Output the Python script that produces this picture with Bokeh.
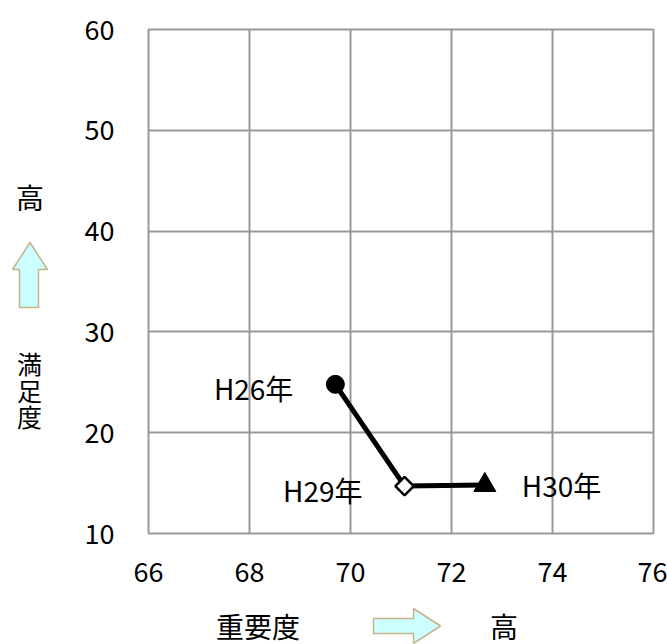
import numpy as np
from bokeh.plotting import figure
from bokeh.layouts import column, row
from bokeh.models import Range1d, FixedTicker
from bokeh.embed import file_html
from bokeh.resources import INLINE
from bokeh.core.properties import value

# ---- data ----
years = ["H26年", "H29年", "H30年"]
importance = [69.7, 71.07, 72.66]      # 重要度 (x)
satisfaction = [24.8, 14.7, 14.8]      # 満足度 (y)
x_ticks = [66, 68, 70, 72, 74, 76]
y_ticks = [10, 20, 30, 40, 50, 60]

FONT = "Noto Sans CJK JP"
GRID = "#999999"
ARROW_FILL = "#ccffff"
ARROW_LINE = "#c4b48a"

LEFT_W = 60
TOP_H = 600
TOTAL_W, TOTAL_H = 667, 644
FRAME_TOP, FRAME_BOTTOM = 29, 533

# ---- main chart ----
p = figure(width=TOTAL_W - LEFT_W, height=TOP_H, output_backend="svg", toolbar_location=None,
           x_range=Range1d(66, 76), y_range=Range1d(10, 60),
           min_border_left=88, min_border_right=14,
           min_border_top=FRAME_TOP, min_border_bottom=TOP_H - FRAME_BOTTOM)
p.background_fill_color = "white"
p.border_fill_color = "white"
p.outline_line_color = GRID
p.outline_line_width = 2

p.xaxis.ticker = FixedTicker(ticks=x_ticks)
p.yaxis.ticker = FixedTicker(ticks=y_ticks)
for ax in (p.xaxis, p.yaxis):
    ax.axis_line_color = None
    ax.major_tick_line_color = None
    ax.minor_tick_line_color = None
    ax.major_label_text_font = FONT
    ax.major_label_text_font_size = "27px"
    ax.major_label_text_color = "black"
p.xaxis.major_label_standoff = 22
p.yaxis.major_label_standoff = 28

p.grid.grid_line_color = GRID
p.grid.grid_line_width = 2

p.line(importance, satisfaction, line_color="black", line_width=5)
p.scatter(importance[0:1], satisfaction[0:1], marker="circle", size=18,
          fill_color="black", line_color="black")
p.scatter(importance[1:2], satisfaction[1:2], marker="square", angle=np.pi / 4,
          size=13, fill_color="white", line_color="black", line_width=2.5)
p.scatter(importance[2:3], satisfaction[2:3], marker="triangle", size=22,
          fill_color="black", line_color="black")

p.text(importance[0:2], satisfaction[0:2], text=years[0:2], x_offset=-42, y_offset=4,
       text_align="right", text_baseline="middle",
       text_font=value(FONT), text_font_size="28px", text_color="black")
p.text(importance[2:3], satisfaction[2:3], text=years[2:3], x_offset=37, y_offset=0,
       text_align="left", text_baseline="middle",
       text_font=value(FONT), text_font_size="28px", text_color="black")


def blank(w, h, ytop, ybottom):
    # screen-like coordinates: data y == page pixel y
    f = figure(width=w, height=h, output_backend="svg", toolbar_location=None,
               x_range=Range1d(0, w), y_range=Range1d(ybottom, ytop),
               min_border=0, min_border_left=0, min_border_right=0,
               min_border_top=0, min_border_bottom=0,
               x_axis_type=None, y_axis_type=None)
    f.outline_line_color = None
    f.grid.visible = False
    f.background_fill_color = "white"
    f.border_fill_color = "white"
    return f


def txt(f, s, x, y, size="28px"):
    f.text([x], [y], text=[s], text_align="center", text_baseline="middle",
           text_font=value(FONT), text_font_size=size, text_color="black")


# ---- left strip: 高 ↑ 満足度 (its frame is aligned with the main frame) ----
left = blank(LEFT_W, TOP_H, FRAME_TOP, FRAME_BOTTOM)
txt(left, "高", 29.5, 196, "28px")
for ch, yy in zip("満足度", [362.5, 389.5, 415.5]):
    txt(left, ch, 29, yy, "25px")
up = [(29.5, 242), (47, 269), (38, 269), (38, 307), (19, 307), (19, 269), (12, 269)]
left.patch([a for a, b in up], [b for a, b in up], fill_color=ARROW_FILL,
           line_color=ARROW_LINE, line_width=1.5)

# ---- bottom strip: 重要度 → 高 ----
bottom = blank(TOTAL_W, TOTAL_H - TOP_H, TOP_H, TOTAL_H)
txt(bottom, "重要度", 257.5, 625, "28px")
txt(bottom, "高", 503.5, 625, "28px")
rt = [(373, 618), (413, 618), (413, 608), (440, 625.5), (413, 643), (413, 633), (373, 633)]
bottom.patch([a for a, b in rt], [b for a, b in rt], fill_color=ARROW_FILL,
             line_color=ARROW_LINE, line_width=1.5)

layout = column(row(left, p, spacing=0), bottom, spacing=0)
open("out.html", "w").write(file_html(layout, INLINE))
